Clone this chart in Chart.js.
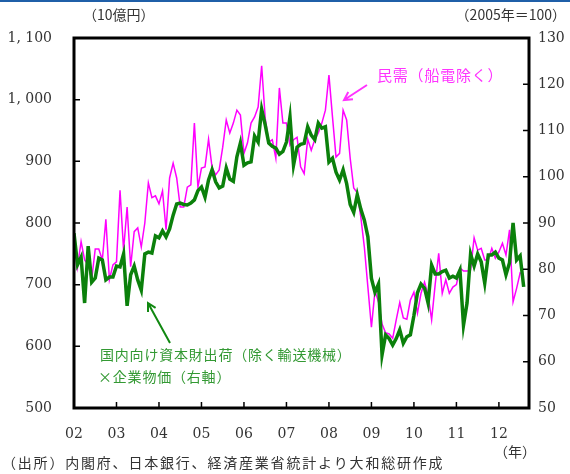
<!DOCTYPE html>
<html>
<head>
<meta charset="utf-8">
<script src="https://cdn.jsdelivr.net/npm/chart.js@4/dist/chart.umd.min.js"></script>
<style>
  html, body { margin: 0; padding: 0; background: #fff; }
  #wrap { width: 570px; height: 474px; position: relative; }
</style>
</head>
<body>
<div id="wrap"><canvas id="capex" width="570" height="474"></canvas></div>
<script>
// monthly, Jan 2002 = index 0
const yearLabels = ['02', '03', '04', '05', '06', '07', '08', '09', '10', '11', '12'];
const leftTicks = [500, 600, 700, 800, 900, 1000, 1100];
const leftTickLabels = ['500', '600', '700', '800', '900', '1, 000', '1, 100'];
const rightTicks = [50, 60, 70, 80, 90, 100, 110, 120, 130];

// 民需（船電除く）, 10億円
const privateDemand = [
  786, 729, 770, 740, 732, 709, 758, 758, 740, 806, 708, 732,
  737, 853, 756, 826, 729, 786, 792, 761, 800, 865, 841, 844,
  831, 852, 789, 873, 897, 873, 826, 826, 858, 862, 962, 858,
  889, 891, 936, 890, 878, 886, 923, 967, 946, 962, 983, 975,
  913, 930, 962, 972, 988, 1055, 970, 931, 935, 905, 1019, 962,
  962, 926, 935, 939, 891, 880, 936, 918, 935, 946, 962, 983,
  1040, 972, 907, 913, 983, 967, 905, 857, 849, 810, 761, 696,
  631, 690, 672, 636, 622, 620, 613, 643, 671, 646, 644, 675,
  688, 654, 686, 704, 683, 643, 700, 751, 686, 708, 686, 696,
  700, 727, 722, 722, 724, 776, 756, 759, 740, 740, 759, 743,
  753, 767, 748, 789, 672, 694, 719, 716
];

// 国内向け資本財出荷（除く輸送機械）×企業物価, 2005=100
const capitalGoods = [
  87.8, 81.0, 82.6, 72.7, 85.0, 77.2, 78.1, 82.4, 82.0, 77.7, 78.3, 78.3,
  80.7, 80.5, 83.3, 72.1, 78.8, 80.7, 77.7, 75.5, 83.3, 83.7, 83.5, 87.2,
  86.8, 88.3, 87.0, 88.7, 91.7, 94.1, 94.3, 94.0, 93.9, 94.3, 95.0, 97.0,
  97.8, 95.6, 99.3, 101.5, 98.9, 97.6, 98.0, 101.9, 99.5, 99.0, 104.3, 107.3,
  102.5, 103.0, 103.2, 108.8, 107.5, 114.6, 111.2, 107.3, 106.6, 106.2, 104.9, 105.5,
  107.5, 112.9, 102.5, 106.4, 107.0, 107.2, 110.8, 109.0, 108.0, 111.6, 110.5, 110.8,
  103.2, 104.0, 101.0, 99.3, 101.5, 98.5, 94.0, 92.3, 96.1, 93.0, 90.6, 87.0,
  78.0, 75.0, 76.8, 61.5, 65.8, 65.0, 63.6, 65.0, 66.9, 64.0, 65.4, 65.8,
  70.0, 74.9, 76.8, 75.9, 72.7, 80.9, 79.0, 79.0, 79.5, 79.8, 78.1, 78.5,
  78.1, 79.8, 67.9, 72.7, 83.3, 80.7, 83.3, 81.6, 77.0, 83.1, 83.1, 83.7,
  82.4, 82.0, 78.8, 81.4, 90.0, 82.0, 82.9, 76.2
];

const numFont = { family: "'DejaVu Serif', 'Liberation Serif', serif", size: 14 };
const jpFont = "'Noto Sans CJK JP', 'Noto Sans', sans-serif";

function arrow(ctx, x0, y0, x1, y1, color) {
  const a = Math.atan2(y1 - y0, x1 - x0);
  const h = 9;
  ctx.save();
  ctx.strokeStyle = color;
  ctx.lineWidth = 2;
  ctx.beginPath();
  ctx.moveTo(x0, y0);
  ctx.lineTo(x1, y1);
  ctx.moveTo(x1 - h * Math.cos(a - 0.5), y1 - h * Math.sin(a - 0.5));
  ctx.lineTo(x1, y1);
  ctx.lineTo(x1 - h * Math.cos(a + 0.5), y1 - h * Math.sin(a + 0.5));
  ctx.stroke();
  ctx.restore();
}

// text with extra space between characters
function spaced(ctx, str, x, y, gap) {
  for (const ch of str) {
    ctx.fillText(ch, x, y);
    x += ctx.measureText(ch).width + gap;
  }
}

const decor = {
  id: 'decor',
  beforeDraw(chart) {
    const ctx = chart.ctx;
    ctx.save();
    ctx.fillStyle = '#1f5fa8';
    ctx.fillRect(0, 0, 570, 2);
    ctx.restore();
  },
  afterDatasetsDraw(chart) {
    const ctx = chart.ctx;
    const a = chart.chartArea;
    const x = chart.scales.x, y = chart.scales.y, y1 = chart.scales.y1;
    ctx.save();
    // inward tick marks
    ctx.strokeStyle = '#000';
    ctx.lineWidth = 1.5;
    ctx.beginPath();
    yearLabels.forEach((_, k) => {
      const px = x.getPixelForValue(k * 12);
      ctx.moveTo(px, a.bottom);
      ctx.lineTo(px, a.bottom - 6);
    });
    leftTicks.forEach(v => {
      const py = y.getPixelForValue(v);
      ctx.moveTo(a.left, py);
      ctx.lineTo(a.left + 6, py);
    });
    rightTicks.forEach(v => {
      const py = y1.getPixelForValue(v);
      ctx.moveTo(a.right, py);
      ctx.lineTo(a.right - 6, py);
    });
    ctx.stroke();
    // frame
    ctx.lineWidth = 3;
    ctx.strokeRect(a.left, a.top, a.right - a.left, a.bottom - a.top);

    // annotations
    ctx.textBaseline = 'middle';
    ctx.font = '15px ' + jpFont;
    ctx.fillStyle = '#ff33ff';
    spaced(ctx, '民需（船電除く）', 377, 75, 0.8);
    arrow(ctx, 367, 85, 344, 100, '#ff33ff');

    ctx.font = '14px ' + jpFont;
    ctx.fillStyle = '#339933';
    spaced(ctx, '国内向け資本財出荷（除く輸送機械）', 100, 355, 0.8);
    spaced(ctx, '×企業物価（右軸）', 98, 377, 0.8);
    arrow(ctx, 170, 343, 148, 303, '#118811');

    // axis units and source
    ctx.fillStyle = '#333';
    ctx.font = '14px ' + jpFont;
    ctx.fillText('（10億円）', 83, 15);
    ctx.textAlign = 'right';
    ctx.fillText('（2005年＝100）', 566, 15);
    ctx.textAlign = 'left';
    ctx.fillText('（年）', 494, 452);
    spaced(ctx, '（出所）内閣府、日本銀行、経済産業省統計より大和総研作成', 2, 463, 1.8);
    ctx.restore();
  }
};

new Chart(document.getElementById('capex'), {
  type: 'line',
  data: {
    datasets: [
      {
        label: '国内向け資本財出荷（除く輸送機械）×企業物価（右軸）',
        data: capitalGoods.map((v, i) => ({ x: i, y: v })),
        yAxisID: 'y1',
        borderColor: '#0b800b',
        borderWidth: 3.5,
        pointRadius: 0,
        tension: 0,
        order: 0
      },
      {
        label: '民需（船電除く）',
        data: privateDemand.map((v, i) => ({ x: i, y: v })),
        yAxisID: 'y',
        borderColor: '#ff00ff',
        borderWidth: 1.5,
        pointRadius: 0,
        tension: 0,
        order: 1
      }
    ]
  },
  options: {
    responsive: false,
    animation: false,
    devicePixelRatio: 1,
    layout: { padding: { top: 38, bottom: 26, left: 0, right: 0 } },
    plugins: {
      legend: { display: false },
      tooltip: { enabled: false }
    },
    scales: {
      x: {
        type: 'linear',
        min: 0,
        max: 128.5,
        grid: { display: false, drawTicks: false },
        border: { display: false },
        afterBuildTicks: s => { s.ticks = yearLabels.map((_, k) => ({ value: k * 12 })); },
        afterFit: s => { s.height = 40; },
        ticks: {
          autoSkip: false,
          maxRotation: 0,
          padding: 18,
          color: '#333',
          font: numFont,
          callback: v => yearLabels[Math.round(v / 12)]
        }
      },
      y: {
        position: 'left',
        min: 500,
        max: 1100,
        grid: { display: false, drawTicks: false },
        border: { display: false },
        afterBuildTicks: s => { s.ticks = leftTicks.map(v => ({ value: v })); },
        afterFit: s => { s.width = 74; },
        ticks: {
          padding: 22,
          color: '#333',
          font: numFont,
          callback: v => leftTickLabels[leftTicks.indexOf(v)]
        }
      },
      y1: {
        position: 'right',
        min: 50,
        max: 130,
        grid: { display: false, drawTicks: false },
        border: { display: false },
        afterBuildTicks: s => { s.ticks = rightTicks.map(v => ({ value: v })); },
        afterFit: s => { s.width = 41; },
        ticks: {
          padding: 9,
          color: '#333',
          font: numFont
        }
      }
    }
  },
  plugins: [decor]
});
</script>
</body>
</html>
